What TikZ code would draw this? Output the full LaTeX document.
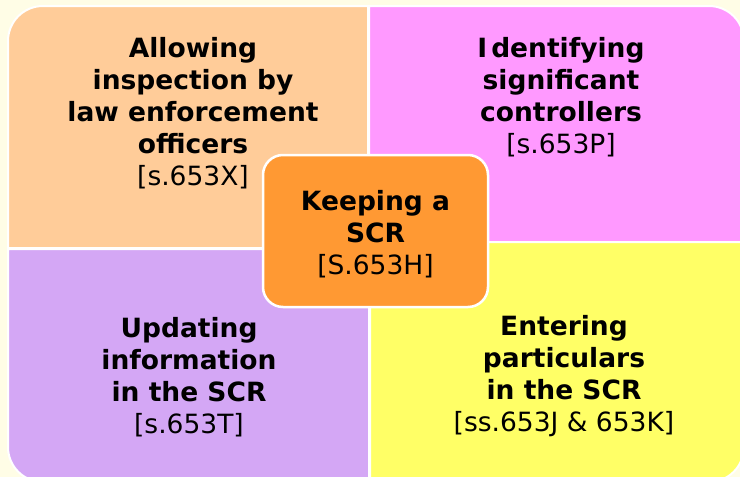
\documentclass[tikz,border=0pt]{standalone}
\usepackage{fontspec}
\setmainfont{DejaVu Sans}
\definecolor{bgcream}{RGB}{255,253,230}
\definecolor{qpeach}{RGB}{255,204,153}
\definecolor{qpink}{RGB}{255,153,255}
\definecolor{qlav}{RGB}{212,167,245}
\definecolor{qyellow}{RGB}{255,255,102}
\definecolor{qorange}{RGB}{255,153,51}
\tikzset{
  quad/.style={draw=white, line width=2pt},
  lbl/.style={anchor=north, inner sep=0pt, align=center, text=black,
    font=\fontsize{26.5}{32}\selectfont},
}
\begin{document}
\begin{tikzpicture}[x=1pt, y=-1pt]
\useasboundingbox (0,0) rectangle (740,477);
\fill[bgcream] (0,0) rectangle (740,477);
% quadrants (y axis points down)
\path[quad, fill=qpeach] (368,248) -- (368,6) -- (43,6)
  arc[start angle=270, end angle=180, radius=35] -- (8,248) -- cycle;
\path[quad, fill=qpink] (369,242) -- (369,6) -- (709,6)
  arc[start angle=270, end angle=360, radius=35] -- (744,242) -- cycle;
\path[quad, fill=qlav] (369,249) -- (8,249) -- (8,447)
  arc[start angle=180, end angle=90, radius=35] -- (369,482) -- cycle;
\path[quad, fill=qyellow] (370,242) -- (744,242) -- (744,447)
  arc[start angle=0, end angle=90, radius=35] -- (370,482) -- cycle;
% quadrant texts
\node[lbl] (tl) at (193,37) {\textbf{Allowing}\\\textbf{inspection by}\\\textbf{law enforcement}\\\textbf{officers}\\{}[s.653X]};
\node[lbl] (tr) at (561,37) {\textbf{I\kern4pt dentifying}\\\textbf{significant}\\\textbf{controllers}\\{}[s.653P]};
\node[lbl] (bl) at (189,317) {\textbf{Updating}\\\textbf{information}\\\textbf{in the SCR}\\{}[s.653T]};
\node[lbl] (br) at (564,315.5) {\textbf{Entering}\\\textbf{particulars}\\\textbf{in the SCR}\\{}[ss.653J \& 653K]};
% centre box
\node[draw=white, line width=2.5pt, fill=qorange, rounded corners=20pt,
  minimum width=225pt, minimum height=152pt, inner sep=0pt] (ctr) at (375.5,231) {};
\node[lbl] (ctrtext) at (375.5,190.5) {\textbf{Keeping a}\\\textbf{SCR}\\{}[S.653H]};
\end{tikzpicture}
\end{document}
